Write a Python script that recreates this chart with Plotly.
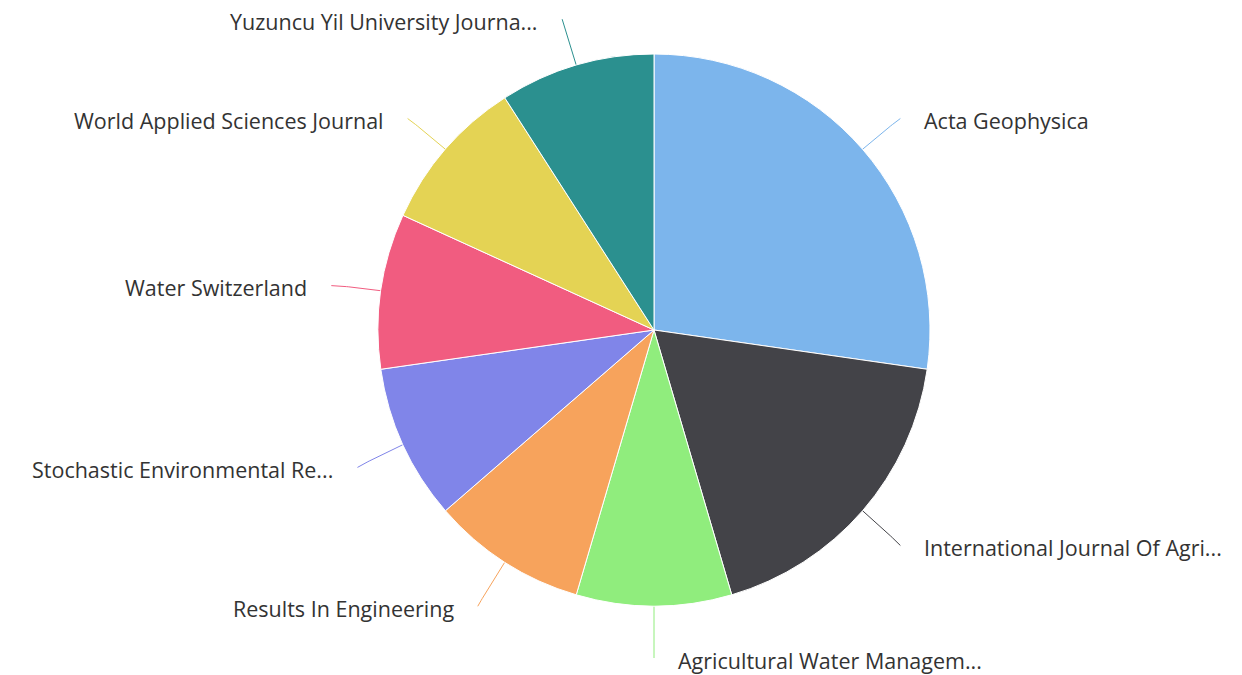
import math
import plotly.graph_objects as go

labels = ["Acta Geophysica", "International Journal Of Agri...", "Agricultural Water Managem...",
          "Results In Engineering", "Stochastic Environmental Re...", "Water Switzerland",
          "World Applied Sciences Journal", "Yuzuncu Yil University Journa..."]
values = [3, 2, 1, 1, 1, 1, 1, 1]
colors = ["#7cb5ec", "#434348", "#90ed7d", "#f7a35c", "#8085e9", "#f15c80", "#e4d354", "#2b908f"]

W, H = 1242, 675
CX, CY, R = 654, 330, 276
LABEL_R = R + 50

fig = go.Figure()
fig.add_trace(go.Pie(
    labels=labels, values=values, sort=False, direction="clockwise", rotation=0,
    marker=dict(colors=colors, line=dict(color="#ffffff", width=1)),
    textinfo="none", hoverinfo="label+value", showlegend=False,
    domain=dict(x=[(CX - R) / W, (CX + R) / W], y=[1 - (CY + R) / H, 1 - (CY - R) / H]),
))

total = sum(values)
cum = 0
annotations = []
for lab, v, col in zip(labels, values, colors):
    mid = (cum + v / 2) / total * 2 * math.pi
    cum += v
    ux, uy = math.sin(mid), -math.cos(mid)
    right = mid <= math.pi + 1e-9
    ex, ey = CX + R * ux, CY + R * uy
    px, py = CX + LABEL_R * ux, CY + LABEL_R * uy
    cxp, cyp = CX + (R + 30) * ux, CY + (R + 30) * uy
    qx, qy = px, py + 2
    xs, ys = [], []
    for i in range(21):
        t = i / 20
        xs.append((1 - t) ** 2 * ex + 2 * (1 - t) * t * cxp + t ** 2 * qx)
        ys.append((1 - t) ** 2 * ey + 2 * (1 - t) * t * cyp + t ** 2 * qy)
    fig.add_trace(go.Scatter(x=xs, y=ys, mode="lines", line=dict(color=col, width=1),
                             hoverinfo="skip", showlegend=False))
    annotations.append(dict(
        x=qx + (22 if right else -22), y=qy + 2, xref="x", yref="y",
        text=lab, showarrow=False, xanchor="left" if right else "right", yanchor="middle",
        font=dict(family="Open Sans", size=21.5, color="#333333"),
    ))

fig.update_layout(
    width=W, height=H, margin=dict(l=0, r=0, t=0, b=0),
    paper_bgcolor="#ffffff", plot_bgcolor="rgba(0,0,0,0)",
    xaxis=dict(range=[0, W], visible=False, fixedrange=True, domain=[0, 1]),
    yaxis=dict(range=[H, 0], visible=False, fixedrange=True, domain=[0, 1]),
    annotations=annotations,
)
fig.write_html(
    "out.html",
    config={"displayModeBar": False},
    post_script="document.body.style.margin='0';document.body.style.overflow='hidden';",
)
